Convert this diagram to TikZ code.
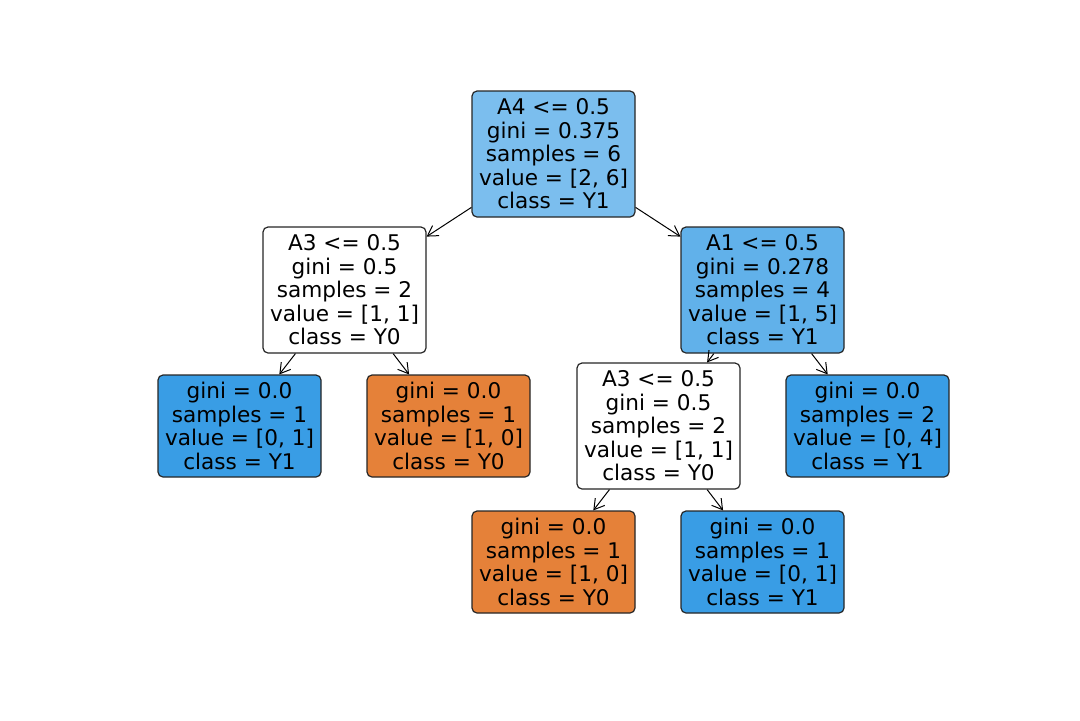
\documentclass[tikz,border=0pt]{standalone}
\usepackage{fontspec}
\setmainfont{DejaVu Sans}
\usetikzlibrary{arrows.meta}
\definecolor{rootblue}{RGB}{123,190,238}
\definecolor{midblue}{RGB}{97,177,234}
\definecolor{leafblue}{RGB}{57,157,229}
\definecolor{leaforange}{RGB}{229,129,57}
\begin{document}
\begin{tikzpicture}[x=0.5pt, y=-0.5pt, >={Straight Barb[length=5pt,width=6pt]}, line join=round,
  font=\fontsize{10.8}{11.75}\selectfont,
  split/.style={draw=black!85, line width=0.6pt, rounded corners=2.5pt, align=center, inner sep=0pt, minimum width=81.5pt, minimum height=63pt},
  leaf/.style={split, minimum height=51pt},
  edge/.style={->, line width=0.5pt}]
\useasboundingbox (0,0) rectangle (1080,720);
% Cac nut tach
\node[split, fill=rootblue] (root) at (553.5,154) {A4 <= 0.5\\gini = 0.375\\samples = 6\\value = [2, 6]\\class = Y1};
\node[split, fill=white] (aL) at (344.5,290) {A3 <= 0.5\\gini = 0.5\\samples = 2\\value = [1, 1]\\class = Y0};
\node[split, fill=midblue] (aR) at (762.5,290) {A1 <= 0.5\\gini = 0.278\\samples = 4\\value = [1, 5]\\class = Y1};
\node[split, fill=white] (aRL) at (658.5,426) {A3 <= 0.5\\gini = 0.5\\samples = 2\\value = [1, 1]\\class = Y0};
% Cac nut la
\node[leaf, fill=leafblue] (lLL) at (239.5,426) {gini = 0.0\\samples = 1\\value = [0, 1]\\class = Y1};
\node[leaf, fill=leaforange] (lLR) at (448.5,426) {gini = 0.0\\samples = 1\\value = [1, 0]\\class = Y0};
\node[leaf, fill=leafblue] (lRR) at (867.5,426) {gini = 0.0\\samples = 2\\value = [0, 4]\\class = Y1};
\node[leaf, fill=leaforange] (lRLL) at (553.5,562) {gini = 0.0\\samples = 1\\value = [1, 0]\\class = Y0};
\node[leaf, fill=leafblue] (lRLR) at (762.5,562) {gini = 0.0\\samples = 1\\value = [0, 1]\\class = Y1};
% Mui ten
\draw[edge] (root)--(aL);
\draw[edge] (root)--(aR);
\draw[edge] (aL)--(lLL);
\draw[edge] (aL)--(lLR);
\draw[edge] (aR)--(aRL);
\draw[edge] (aR)--(lRR);
\draw[edge] (aRL)--(lRLL);
\draw[edge] (aRL)--(lRLR);
\end{tikzpicture}
\end{document}
